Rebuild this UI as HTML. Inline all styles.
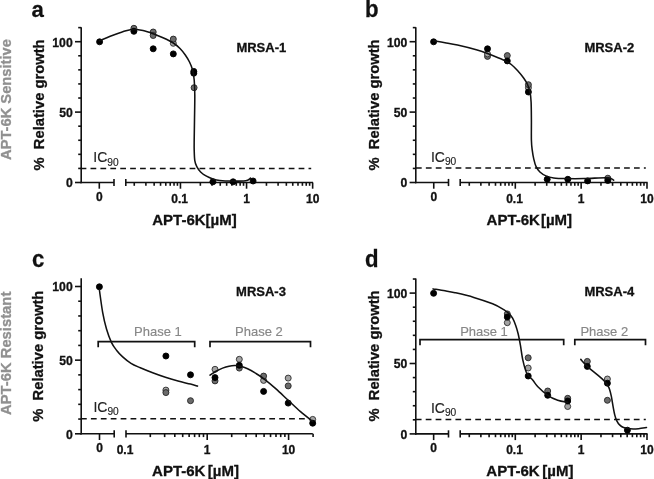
<!DOCTYPE html>
<html><head><meta charset="utf-8"><title>chart</title>
<style>html,body{margin:0;padding:0;background:#fff;}svg{display:block;will-change:transform;filter:grayscale(1);}</style></head>
<body>
<svg width="654" height="479" viewBox="0 0 654 479" font-family="Liberation Sans, sans-serif">
<rect width="654" height="479" fill="#fff"/>
<text transform="translate(11.30,99.55) rotate(-90)" font-size="14.7" font-weight="bold" text-anchor="middle" fill="#909090" stroke="#909090" stroke-width="0.3" xml:space="preserve">APT-6K Sensitive</text>
<text transform="translate(11.30,353.35) rotate(-90)" font-size="14.8" font-weight="bold" text-anchor="middle" fill="#909090" stroke="#909090" stroke-width="0.3" xml:space="preserve">APT-6K Resistant</text>
<text transform="translate(31.60,17.10) scale(1,1.02)" font-size="22.2" font-weight="bold" fill="#111" stroke="#111" stroke-width="0.25">a</text>
<text transform="translate(365.00,17.10) scale(1,1.07)" font-size="22.2" font-weight="bold" fill="#111" stroke="#111" stroke-width="0.25">b</text>
<text transform="translate(32.10,267.20) scale(1,1.06)" font-size="22.2" font-weight="bold" fill="#111" stroke="#111" stroke-width="0.25">c</text>
<text transform="translate(364.90,267.20) scale(1,1.07)" font-size="22.2" font-weight="bold" fill="#111" stroke="#111" stroke-width="0.25">d</text>
<line x1="81.20" y1="183.30" x2="81.20" y2="27.30" stroke="#111" stroke-width="1.6" />
<line x1="75.00" y1="182.50" x2="81.20" y2="182.50" stroke="#111" stroke-width="1.6" />
<text x="72.70" y="187.30" font-size="12.2" font-weight="bold" text-anchor="end" fill="#111"  stroke="#111" stroke-width="0.3">0</text>
<line x1="78.20" y1="168.42" x2="81.20" y2="168.42" stroke="#111" stroke-width="1.6" />
<line x1="78.20" y1="154.34" x2="81.20" y2="154.34" stroke="#111" stroke-width="1.6" />
<line x1="78.20" y1="140.26" x2="81.20" y2="140.26" stroke="#111" stroke-width="1.6" />
<line x1="78.20" y1="126.18" x2="81.20" y2="126.18" stroke="#111" stroke-width="1.6" />
<line x1="75.00" y1="112.10" x2="81.20" y2="112.10" stroke="#111" stroke-width="1.6" />
<text x="72.70" y="116.90" font-size="12.2" font-weight="bold" text-anchor="end" fill="#111"  stroke="#111" stroke-width="0.3">50</text>
<line x1="78.20" y1="98.02" x2="81.20" y2="98.02" stroke="#111" stroke-width="1.6" />
<line x1="78.20" y1="83.94" x2="81.20" y2="83.94" stroke="#111" stroke-width="1.6" />
<line x1="78.20" y1="69.86" x2="81.20" y2="69.86" stroke="#111" stroke-width="1.6" />
<line x1="78.20" y1="55.78" x2="81.20" y2="55.78" stroke="#111" stroke-width="1.6" />
<line x1="75.00" y1="41.70" x2="81.20" y2="41.70" stroke="#111" stroke-width="1.6" />
<text x="72.70" y="46.50" font-size="12.2" font-weight="bold" text-anchor="end" fill="#111"  stroke="#111" stroke-width="0.3">100</text>
<line x1="78.20" y1="27.62" x2="81.20" y2="27.62" stroke="#111" stroke-width="1.6" />
<line x1="80.40" y1="182.50" x2="114.00" y2="182.50" stroke="#111" stroke-width="1.6" />
<line x1="114.00" y1="178.90" x2="114.00" y2="186.10" stroke="#111" stroke-width="1.6" />
<line x1="99.30" y1="182.50" x2="99.30" y2="188.70" stroke="#111" stroke-width="1.6" />
<text x="99.30" y="200.60" font-size="12" font-weight="bold" text-anchor="middle" fill="#111"  stroke="#111" stroke-width="0.3">0</text>
<line x1="125.80" y1="182.50" x2="313.00" y2="182.50" stroke="#111" stroke-width="1.6" />
<line x1="125.80" y1="178.90" x2="125.80" y2="186.10" stroke="#111" stroke-width="1.6" />
<line x1="134.25" y1="182.50" x2="134.25" y2="185.80" stroke="#111" stroke-width="1.6" />
<line x1="145.89" y1="182.50" x2="145.89" y2="185.80" stroke="#111" stroke-width="1.6" />
<line x1="154.15" y1="182.50" x2="154.15" y2="185.80" stroke="#111" stroke-width="1.6" />
<line x1="160.55" y1="182.50" x2="160.55" y2="185.80" stroke="#111" stroke-width="1.6" />
<line x1="165.79" y1="182.50" x2="165.79" y2="185.80" stroke="#111" stroke-width="1.6" />
<line x1="170.21" y1="182.50" x2="170.21" y2="185.80" stroke="#111" stroke-width="1.6" />
<line x1="174.04" y1="182.50" x2="174.04" y2="185.80" stroke="#111" stroke-width="1.6" />
<line x1="177.43" y1="182.50" x2="177.43" y2="185.80" stroke="#111" stroke-width="1.6" />
<line x1="180.45" y1="182.50" x2="180.45" y2="188.70" stroke="#111" stroke-width="1.6" />
<line x1="200.35" y1="182.50" x2="200.35" y2="185.80" stroke="#111" stroke-width="1.6" />
<line x1="211.99" y1="182.50" x2="211.99" y2="185.80" stroke="#111" stroke-width="1.6" />
<line x1="220.25" y1="182.50" x2="220.25" y2="185.80" stroke="#111" stroke-width="1.6" />
<line x1="226.65" y1="182.50" x2="226.65" y2="185.80" stroke="#111" stroke-width="1.6" />
<line x1="231.89" y1="182.50" x2="231.89" y2="185.80" stroke="#111" stroke-width="1.6" />
<line x1="236.31" y1="182.50" x2="236.31" y2="185.80" stroke="#111" stroke-width="1.6" />
<line x1="240.14" y1="182.50" x2="240.14" y2="185.80" stroke="#111" stroke-width="1.6" />
<line x1="243.53" y1="182.50" x2="243.53" y2="185.80" stroke="#111" stroke-width="1.6" />
<line x1="246.55" y1="182.50" x2="246.55" y2="188.70" stroke="#111" stroke-width="1.6" />
<line x1="266.45" y1="182.50" x2="266.45" y2="185.80" stroke="#111" stroke-width="1.6" />
<line x1="278.09" y1="182.50" x2="278.09" y2="185.80" stroke="#111" stroke-width="1.6" />
<line x1="286.35" y1="182.50" x2="286.35" y2="185.80" stroke="#111" stroke-width="1.6" />
<line x1="292.75" y1="182.50" x2="292.75" y2="185.80" stroke="#111" stroke-width="1.6" />
<line x1="297.99" y1="182.50" x2="297.99" y2="185.80" stroke="#111" stroke-width="1.6" />
<line x1="302.41" y1="182.50" x2="302.41" y2="185.80" stroke="#111" stroke-width="1.6" />
<line x1="306.24" y1="182.50" x2="306.24" y2="185.80" stroke="#111" stroke-width="1.6" />
<line x1="309.63" y1="182.50" x2="309.63" y2="185.80" stroke="#111" stroke-width="1.6" />
<line x1="312.65" y1="182.50" x2="312.65" y2="188.70" stroke="#111" stroke-width="1.6" />
<text x="179.65" y="202.70" font-size="12" font-weight="bold" text-anchor="middle" fill="#111"  stroke="#111" stroke-width="0.3">0.1</text>
<text x="246.55" y="202.70" font-size="12" font-weight="bold" text-anchor="middle" fill="#111"  stroke="#111" stroke-width="0.3">1</text>
<text x="312.65" y="202.70" font-size="12" font-weight="bold" text-anchor="middle" fill="#111"  stroke="#111" stroke-width="0.3">10</text>
<text x="194.50" y="225.00" font-size="15" font-weight="bold" text-anchor="middle" fill="#111" xml:space="preserve" stroke="#111" stroke-width="0.3">APT-6K[µM]</text>
<text transform="translate(44.30,104.95) rotate(-90)" font-size="14.75" font-weight="bold" text-anchor="middle" fill="#111" stroke="#111" stroke-width="0.3" xml:space="preserve">%  Relative growth</text>
<line x1="80.60" y1="168.40" x2="311.20" y2="168.40" stroke="#111" stroke-width="1.45" stroke-dasharray="5.75 4.16"/>
<text x="93.30" y="162.30" font-size="14" fill="#222" stroke="#222" stroke-width="0.15">IC<tspan font-size="10.2" dy="3.2">90</tspan></text>
<text x="236.40" y="51.60" font-size="13" font-weight="bold" text-anchor="start" fill="#111"  stroke="#111" stroke-width="0.3">MRSA-1</text>
<circle cx="99.60" cy="41.80" r="3.0" fill="#000" stroke="#000" stroke-width="0.9"/>
<circle cx="133.90" cy="28.30" r="3.0" fill="#6b6b6b" stroke="#242424" stroke-width="0.9"/>
<circle cx="133.90" cy="31.30" r="3.0" fill="#000" stroke="#000" stroke-width="0.9"/>
<circle cx="153.20" cy="32.00" r="3.0" fill="#6b6b6b" stroke="#242424" stroke-width="0.9"/>
<circle cx="153.20" cy="35.50" r="3.0" fill="#6b6b6b" stroke="#242424" stroke-width="0.9"/>
<circle cx="153.20" cy="48.80" r="3.0" fill="#000" stroke="#000" stroke-width="0.9"/>
<circle cx="173.30" cy="43.30" r="3.0" fill="#a3a3a3" stroke="#2e2e2e" stroke-width="0.9"/>
<circle cx="173.30" cy="39.10" r="3.0" fill="#6b6b6b" stroke="#242424" stroke-width="0.9"/>
<circle cx="173.30" cy="53.90" r="3.0" fill="#000" stroke="#000" stroke-width="0.9"/>
<circle cx="194.10" cy="87.70" r="3.0" fill="#6b6b6b" stroke="#242424" stroke-width="0.9"/>
<circle cx="193.80" cy="73.20" r="3.0" fill="#000" stroke="#000" stroke-width="0.9"/>
<circle cx="193.80" cy="71.40" r="3.0" fill="#000" stroke="#000" stroke-width="0.9"/>
<circle cx="212.90" cy="181.80" r="3.0" fill="#000" stroke="#000" stroke-width="0.9"/>
<circle cx="233.10" cy="181.80" r="3.0" fill="#000" stroke="#000" stroke-width="0.9"/>
<circle cx="253.10" cy="181.00" r="3.0" fill="#000" stroke="#000" stroke-width="0.9"/>
<line x1="415.80" y1="183.30" x2="415.80" y2="27.30" stroke="#111" stroke-width="1.6" />
<line x1="409.60" y1="182.50" x2="415.80" y2="182.50" stroke="#111" stroke-width="1.6" />
<text x="407.30" y="187.30" font-size="12.2" font-weight="bold" text-anchor="end" fill="#111"  stroke="#111" stroke-width="0.3">0</text>
<line x1="412.80" y1="168.42" x2="415.80" y2="168.42" stroke="#111" stroke-width="1.6" />
<line x1="412.80" y1="154.34" x2="415.80" y2="154.34" stroke="#111" stroke-width="1.6" />
<line x1="412.80" y1="140.26" x2="415.80" y2="140.26" stroke="#111" stroke-width="1.6" />
<line x1="412.80" y1="126.18" x2="415.80" y2="126.18" stroke="#111" stroke-width="1.6" />
<line x1="409.60" y1="112.10" x2="415.80" y2="112.10" stroke="#111" stroke-width="1.6" />
<text x="407.30" y="116.90" font-size="12.2" font-weight="bold" text-anchor="end" fill="#111"  stroke="#111" stroke-width="0.3">50</text>
<line x1="412.80" y1="98.02" x2="415.80" y2="98.02" stroke="#111" stroke-width="1.6" />
<line x1="412.80" y1="83.94" x2="415.80" y2="83.94" stroke="#111" stroke-width="1.6" />
<line x1="412.80" y1="69.86" x2="415.80" y2="69.86" stroke="#111" stroke-width="1.6" />
<line x1="412.80" y1="55.78" x2="415.80" y2="55.78" stroke="#111" stroke-width="1.6" />
<line x1="409.60" y1="41.70" x2="415.80" y2="41.70" stroke="#111" stroke-width="1.6" />
<text x="407.30" y="46.50" font-size="12.2" font-weight="bold" text-anchor="end" fill="#111"  stroke="#111" stroke-width="0.3">100</text>
<line x1="412.80" y1="27.62" x2="415.80" y2="27.62" stroke="#111" stroke-width="1.6" />
<line x1="415.00" y1="182.50" x2="448.50" y2="182.50" stroke="#111" stroke-width="1.6" />
<line x1="448.50" y1="178.90" x2="448.50" y2="186.10" stroke="#111" stroke-width="1.6" />
<line x1="433.75" y1="182.50" x2="433.75" y2="188.70" stroke="#111" stroke-width="1.6" />
<text x="433.75" y="200.60" font-size="12" font-weight="bold" text-anchor="middle" fill="#111"  stroke="#111" stroke-width="0.3">0</text>
<line x1="460.20" y1="182.50" x2="647.60" y2="182.50" stroke="#111" stroke-width="1.6" />
<line x1="460.20" y1="178.90" x2="460.20" y2="186.10" stroke="#111" stroke-width="1.6" />
<line x1="469.27" y1="182.50" x2="469.27" y2="185.80" stroke="#111" stroke-width="1.6" />
<line x1="480.87" y1="182.50" x2="480.87" y2="185.80" stroke="#111" stroke-width="1.6" />
<line x1="489.10" y1="182.50" x2="489.10" y2="185.80" stroke="#111" stroke-width="1.6" />
<line x1="495.48" y1="182.50" x2="495.48" y2="185.80" stroke="#111" stroke-width="1.6" />
<line x1="500.69" y1="182.50" x2="500.69" y2="185.80" stroke="#111" stroke-width="1.6" />
<line x1="505.10" y1="182.50" x2="505.10" y2="185.80" stroke="#111" stroke-width="1.6" />
<line x1="508.92" y1="182.50" x2="508.92" y2="185.80" stroke="#111" stroke-width="1.6" />
<line x1="512.29" y1="182.50" x2="512.29" y2="185.80" stroke="#111" stroke-width="1.6" />
<line x1="515.30" y1="182.50" x2="515.30" y2="188.70" stroke="#111" stroke-width="1.6" />
<line x1="535.12" y1="182.50" x2="535.12" y2="185.80" stroke="#111" stroke-width="1.6" />
<line x1="546.72" y1="182.50" x2="546.72" y2="185.80" stroke="#111" stroke-width="1.6" />
<line x1="554.95" y1="182.50" x2="554.95" y2="185.80" stroke="#111" stroke-width="1.6" />
<line x1="561.33" y1="182.50" x2="561.33" y2="185.80" stroke="#111" stroke-width="1.6" />
<line x1="566.54" y1="182.50" x2="566.54" y2="185.80" stroke="#111" stroke-width="1.6" />
<line x1="570.95" y1="182.50" x2="570.95" y2="185.80" stroke="#111" stroke-width="1.6" />
<line x1="574.77" y1="182.50" x2="574.77" y2="185.80" stroke="#111" stroke-width="1.6" />
<line x1="578.14" y1="182.50" x2="578.14" y2="185.80" stroke="#111" stroke-width="1.6" />
<line x1="581.15" y1="182.50" x2="581.15" y2="188.70" stroke="#111" stroke-width="1.6" />
<line x1="600.97" y1="182.50" x2="600.97" y2="185.80" stroke="#111" stroke-width="1.6" />
<line x1="612.57" y1="182.50" x2="612.57" y2="185.80" stroke="#111" stroke-width="1.6" />
<line x1="620.80" y1="182.50" x2="620.80" y2="185.80" stroke="#111" stroke-width="1.6" />
<line x1="627.18" y1="182.50" x2="627.18" y2="185.80" stroke="#111" stroke-width="1.6" />
<line x1="632.39" y1="182.50" x2="632.39" y2="185.80" stroke="#111" stroke-width="1.6" />
<line x1="636.80" y1="182.50" x2="636.80" y2="185.80" stroke="#111" stroke-width="1.6" />
<line x1="640.62" y1="182.50" x2="640.62" y2="185.80" stroke="#111" stroke-width="1.6" />
<line x1="643.99" y1="182.50" x2="643.99" y2="185.80" stroke="#111" stroke-width="1.6" />
<line x1="647.00" y1="182.50" x2="647.00" y2="188.70" stroke="#111" stroke-width="1.6" />
<text x="514.50" y="202.70" font-size="12" font-weight="bold" text-anchor="middle" fill="#111"  stroke="#111" stroke-width="0.3">0.1</text>
<text x="581.15" y="202.70" font-size="12" font-weight="bold" text-anchor="middle" fill="#111"  stroke="#111" stroke-width="0.3">1</text>
<text x="647.00" y="202.70" font-size="12" font-weight="bold" text-anchor="middle" fill="#111"  stroke="#111" stroke-width="0.3">10</text>
<text x="529.30" y="225.00" font-size="15" font-weight="bold" text-anchor="middle" fill="#111" xml:space="preserve" stroke="#111" stroke-width="0.3">APT-6K<tspan dx="1.0">[µM]</tspan></text>
<text transform="translate(379.30,104.95) rotate(-90)" font-size="14.75" font-weight="bold" text-anchor="middle" fill="#111" stroke="#111" stroke-width="0.3" xml:space="preserve">%  Relative growth</text>
<line x1="415.95" y1="168.00" x2="645.80" y2="168.00" stroke="#111" stroke-width="1.45" stroke-dasharray="5.75 4.16"/>
<text x="430.90" y="161.80" font-size="14" fill="#222" stroke="#222" stroke-width="0.15">IC<tspan font-size="10.2" dy="3.2">90</tspan></text>
<text x="584.40" y="51.60" font-size="13" font-weight="bold" text-anchor="start" fill="#111"  stroke="#111" stroke-width="0.3">MRSA-2</text>
<circle cx="433.60" cy="41.80" r="3.0" fill="#000" stroke="#000" stroke-width="0.9"/>
<circle cx="487.50" cy="56.40" r="3.0" fill="#6b6b6b" stroke="#242424" stroke-width="0.9"/>
<circle cx="487.50" cy="53.90" r="3.0" fill="#a3a3a3" stroke="#2e2e2e" stroke-width="0.9"/>
<circle cx="487.50" cy="48.80" r="3.0" fill="#000" stroke="#000" stroke-width="0.9"/>
<circle cx="507.30" cy="55.60" r="3.0" fill="#6b6b6b" stroke="#242424" stroke-width="0.9"/>
<circle cx="507.30" cy="60.90" r="3.0" fill="#000" stroke="#000" stroke-width="0.9"/>
<circle cx="528.40" cy="87.70" r="3.0" fill="#a3a3a3" stroke="#2e2e2e" stroke-width="0.9"/>
<circle cx="528.40" cy="84.70" r="3.0" fill="#6b6b6b" stroke="#242424" stroke-width="0.9"/>
<circle cx="528.40" cy="92.00" r="3.0" fill="#000" stroke="#000" stroke-width="0.9"/>
<circle cx="547.20" cy="179.30" r="3.0" fill="#000" stroke="#000" stroke-width="0.9"/>
<circle cx="567.80" cy="179.30" r="3.0" fill="#000" stroke="#000" stroke-width="0.9"/>
<circle cx="587.60" cy="180.90" r="3.0" fill="#000" stroke="#000" stroke-width="0.9"/>
<circle cx="607.80" cy="178.20" r="3.0" fill="#6b6b6b" stroke="#242424" stroke-width="0.9"/>
<circle cx="607.80" cy="180.50" r="3.0" fill="#000" stroke="#000" stroke-width="0.9"/>
<line x1="81.20" y1="434.60" x2="81.20" y2="278.20" stroke="#111" stroke-width="1.6" />
<line x1="75.00" y1="433.80" x2="81.20" y2="433.80" stroke="#111" stroke-width="1.6" />
<text x="72.70" y="438.60" font-size="12.2" font-weight="bold" text-anchor="end" fill="#111"  stroke="#111" stroke-width="0.3">0</text>
<line x1="78.20" y1="419.07" x2="81.20" y2="419.07" stroke="#111" stroke-width="1.6" />
<line x1="78.20" y1="404.34" x2="81.20" y2="404.34" stroke="#111" stroke-width="1.6" />
<line x1="78.20" y1="389.61" x2="81.20" y2="389.61" stroke="#111" stroke-width="1.6" />
<line x1="78.20" y1="374.88" x2="81.20" y2="374.88" stroke="#111" stroke-width="1.6" />
<line x1="75.00" y1="360.15" x2="81.20" y2="360.15" stroke="#111" stroke-width="1.6" />
<text x="72.70" y="364.95" font-size="12.2" font-weight="bold" text-anchor="end" fill="#111"  stroke="#111" stroke-width="0.3">50</text>
<line x1="78.20" y1="345.42" x2="81.20" y2="345.42" stroke="#111" stroke-width="1.6" />
<line x1="78.20" y1="330.69" x2="81.20" y2="330.69" stroke="#111" stroke-width="1.6" />
<line x1="78.20" y1="315.96" x2="81.20" y2="315.96" stroke="#111" stroke-width="1.6" />
<line x1="78.20" y1="301.23" x2="81.20" y2="301.23" stroke="#111" stroke-width="1.6" />
<line x1="75.00" y1="286.50" x2="81.20" y2="286.50" stroke="#111" stroke-width="1.6" />
<text x="72.70" y="291.30" font-size="12.2" font-weight="bold" text-anchor="end" fill="#111"  stroke="#111" stroke-width="0.3">100</text>
<line x1="80.40" y1="433.80" x2="114.20" y2="433.80" stroke="#111" stroke-width="1.6" />
<line x1="114.20" y1="430.20" x2="114.20" y2="437.40" stroke="#111" stroke-width="1.6" />
<line x1="99.50" y1="433.80" x2="99.50" y2="440.00" stroke="#111" stroke-width="1.6" />
<text x="99.50" y="452.10" font-size="12" font-weight="bold" text-anchor="middle" fill="#111"  stroke="#111" stroke-width="0.3">0</text>
<line x1="126.00" y1="433.80" x2="312.80" y2="433.80" stroke="#111" stroke-width="1.6" />
<line x1="126.00" y1="430.20" x2="126.00" y2="437.40" stroke="#111" stroke-width="1.6" />
<line x1="150.30" y1="433.80" x2="150.30" y2="437.10" stroke="#111" stroke-width="1.6" />
<line x1="164.64" y1="433.80" x2="164.64" y2="437.10" stroke="#111" stroke-width="1.6" />
<line x1="174.81" y1="433.80" x2="174.81" y2="437.10" stroke="#111" stroke-width="1.6" />
<line x1="182.70" y1="433.80" x2="182.70" y2="437.10" stroke="#111" stroke-width="1.6" />
<line x1="189.14" y1="433.80" x2="189.14" y2="437.10" stroke="#111" stroke-width="1.6" />
<line x1="194.59" y1="433.80" x2="194.59" y2="437.10" stroke="#111" stroke-width="1.6" />
<line x1="199.31" y1="433.80" x2="199.31" y2="437.10" stroke="#111" stroke-width="1.6" />
<line x1="203.48" y1="433.80" x2="203.48" y2="437.10" stroke="#111" stroke-width="1.6" />
<line x1="207.20" y1="433.80" x2="207.20" y2="440.00" stroke="#111" stroke-width="1.6" />
<line x1="231.70" y1="433.80" x2="231.70" y2="437.10" stroke="#111" stroke-width="1.6" />
<line x1="246.04" y1="433.80" x2="246.04" y2="437.10" stroke="#111" stroke-width="1.6" />
<line x1="256.21" y1="433.80" x2="256.21" y2="437.10" stroke="#111" stroke-width="1.6" />
<line x1="264.10" y1="433.80" x2="264.10" y2="437.10" stroke="#111" stroke-width="1.6" />
<line x1="270.54" y1="433.80" x2="270.54" y2="437.10" stroke="#111" stroke-width="1.6" />
<line x1="275.99" y1="433.80" x2="275.99" y2="437.10" stroke="#111" stroke-width="1.6" />
<line x1="280.71" y1="433.80" x2="280.71" y2="437.10" stroke="#111" stroke-width="1.6" />
<line x1="284.88" y1="433.80" x2="284.88" y2="437.10" stroke="#111" stroke-width="1.6" />
<line x1="288.60" y1="433.80" x2="288.60" y2="440.00" stroke="#111" stroke-width="1.6" />
<line x1="313.10" y1="433.80" x2="313.10" y2="437.10" stroke="#111" stroke-width="1.6" />
<text x="125.00" y="453.90" font-size="12" font-weight="bold" text-anchor="middle" fill="#111"  stroke="#111" stroke-width="0.3">0.1</text>
<text x="207.20" y="453.90" font-size="12" font-weight="bold" text-anchor="middle" fill="#111"  stroke="#111" stroke-width="0.3">1</text>
<text x="288.60" y="453.90" font-size="12" font-weight="bold" text-anchor="middle" fill="#111"  stroke="#111" stroke-width="0.3">10</text>
<text x="195.50" y="476.00" font-size="15" font-weight="bold" text-anchor="middle" fill="#111" xml:space="preserve" stroke="#111" stroke-width="0.3">APT-6K<tspan dx="2.3">[µM]</tspan></text>
<text transform="translate(43.30,356.20) rotate(-90)" font-size="14.75" font-weight="bold" text-anchor="middle" fill="#111" stroke="#111" stroke-width="0.3" xml:space="preserve">%  Relative growth</text>
<line x1="81.00" y1="418.80" x2="311.00" y2="418.80" stroke="#111" stroke-width="1.45" stroke-dasharray="5.75 4.16"/>
<text x="93.40" y="412.00" font-size="14" fill="#222" stroke="#222" stroke-width="0.15">IC<tspan font-size="10.2" dy="3.2">90</tspan></text>
<text x="236.10" y="296.30" font-size="13" font-weight="bold" text-anchor="start" fill="#111"  stroke="#111" stroke-width="0.3">MRSA-3</text>
<path d="M98.20,347.20 V341.60 H194.70 V347.20" fill="none" stroke="#111" stroke-width="1.7"/>
<text x="157.90" y="336.40" font-size="13" font-weight="normal" text-anchor="middle" fill="#878787"  stroke="#878787" stroke-width="0.15">Phase 1</text>
<path d="M210.00,347.20 V341.60 H310.50 V347.20" fill="none" stroke="#111" stroke-width="1.7"/>
<text x="258.90" y="336.40" font-size="13" font-weight="normal" text-anchor="middle" fill="#878787"  stroke="#878787" stroke-width="0.15">Phase 2</text>
<circle cx="99.40" cy="286.80" r="3.0" fill="#000" stroke="#000" stroke-width="0.9"/>
<circle cx="165.90" cy="356.00" r="3.0" fill="#000" stroke="#000" stroke-width="0.9"/>
<circle cx="165.90" cy="390.10" r="3.0" fill="#a3a3a3" stroke="#2e2e2e" stroke-width="0.9"/>
<circle cx="165.90" cy="392.60" r="3.0" fill="#6b6b6b" stroke="#242424" stroke-width="0.9"/>
<circle cx="190.50" cy="374.80" r="3.0" fill="#000" stroke="#000" stroke-width="0.9"/>
<circle cx="190.50" cy="400.70" r="3.0" fill="#6b6b6b" stroke="#242424" stroke-width="0.9"/>
<circle cx="215.00" cy="369.30" r="3.0" fill="#a3a3a3" stroke="#2e2e2e" stroke-width="0.9"/>
<circle cx="215.00" cy="380.90" r="3.0" fill="#6b6b6b" stroke="#242424" stroke-width="0.9"/>
<circle cx="215.00" cy="377.60" r="3.0" fill="#000" stroke="#000" stroke-width="0.9"/>
<circle cx="239.30" cy="359.30" r="3.0" fill="#a3a3a3" stroke="#2e2e2e" stroke-width="0.9"/>
<circle cx="239.30" cy="368.10" r="3.0" fill="#6b6b6b" stroke="#242424" stroke-width="0.9"/>
<circle cx="239.30" cy="365.30" r="3.0" fill="#000" stroke="#000" stroke-width="0.9"/>
<circle cx="263.60" cy="380.40" r="3.0" fill="#a3a3a3" stroke="#2e2e2e" stroke-width="0.9"/>
<circle cx="263.60" cy="376.10" r="3.0" fill="#6b6b6b" stroke="#242424" stroke-width="0.9"/>
<circle cx="263.60" cy="391.40" r="3.0" fill="#000" stroke="#000" stroke-width="0.9"/>
<circle cx="288.20" cy="378.10" r="3.0" fill="#a3a3a3" stroke="#2e2e2e" stroke-width="0.9"/>
<circle cx="288.20" cy="385.90" r="3.0" fill="#6b6b6b" stroke="#242424" stroke-width="0.9"/>
<circle cx="288.20" cy="403.10" r="3.0" fill="#000" stroke="#000" stroke-width="0.9"/>
<circle cx="312.70" cy="419.40" r="3.0" fill="#a3a3a3" stroke="#2e2e2e" stroke-width="0.9"/>
<circle cx="312.70" cy="423.20" r="3.0" fill="#000" stroke="#000" stroke-width="0.9"/>
<line x1="415.80" y1="434.70" x2="415.80" y2="278.50" stroke="#111" stroke-width="1.6" />
<line x1="409.60" y1="433.90" x2="415.80" y2="433.90" stroke="#111" stroke-width="1.6" />
<text x="407.30" y="438.70" font-size="12.2" font-weight="bold" text-anchor="end" fill="#111"  stroke="#111" stroke-width="0.3">0</text>
<line x1="412.80" y1="419.82" x2="415.80" y2="419.82" stroke="#111" stroke-width="1.6" />
<line x1="412.80" y1="405.74" x2="415.80" y2="405.74" stroke="#111" stroke-width="1.6" />
<line x1="412.80" y1="391.66" x2="415.80" y2="391.66" stroke="#111" stroke-width="1.6" />
<line x1="412.80" y1="377.58" x2="415.80" y2="377.58" stroke="#111" stroke-width="1.6" />
<line x1="409.60" y1="363.50" x2="415.80" y2="363.50" stroke="#111" stroke-width="1.6" />
<text x="407.30" y="368.30" font-size="12.2" font-weight="bold" text-anchor="end" fill="#111"  stroke="#111" stroke-width="0.3">50</text>
<line x1="412.80" y1="349.42" x2="415.80" y2="349.42" stroke="#111" stroke-width="1.6" />
<line x1="412.80" y1="335.34" x2="415.80" y2="335.34" stroke="#111" stroke-width="1.6" />
<line x1="412.80" y1="321.26" x2="415.80" y2="321.26" stroke="#111" stroke-width="1.6" />
<line x1="412.80" y1="307.18" x2="415.80" y2="307.18" stroke="#111" stroke-width="1.6" />
<line x1="409.60" y1="293.10" x2="415.80" y2="293.10" stroke="#111" stroke-width="1.6" />
<text x="407.30" y="297.90" font-size="12.2" font-weight="bold" text-anchor="end" fill="#111"  stroke="#111" stroke-width="0.3">100</text>
<line x1="412.80" y1="279.02" x2="415.80" y2="279.02" stroke="#111" stroke-width="1.6" />
<line x1="415.00" y1="433.90" x2="448.50" y2="433.90" stroke="#111" stroke-width="1.6" />
<line x1="448.50" y1="430.30" x2="448.50" y2="437.50" stroke="#111" stroke-width="1.6" />
<line x1="433.65" y1="433.90" x2="433.65" y2="440.10" stroke="#111" stroke-width="1.6" />
<text x="433.65" y="452.20" font-size="12" font-weight="bold" text-anchor="middle" fill="#111"  stroke="#111" stroke-width="0.3">0</text>
<line x1="460.20" y1="433.90" x2="647.60" y2="433.90" stroke="#111" stroke-width="1.6" />
<line x1="460.20" y1="430.30" x2="460.20" y2="437.50" stroke="#111" stroke-width="1.6" />
<line x1="469.27" y1="433.90" x2="469.27" y2="437.20" stroke="#111" stroke-width="1.6" />
<line x1="480.87" y1="433.90" x2="480.87" y2="437.20" stroke="#111" stroke-width="1.6" />
<line x1="489.10" y1="433.90" x2="489.10" y2="437.20" stroke="#111" stroke-width="1.6" />
<line x1="495.48" y1="433.90" x2="495.48" y2="437.20" stroke="#111" stroke-width="1.6" />
<line x1="500.69" y1="433.90" x2="500.69" y2="437.20" stroke="#111" stroke-width="1.6" />
<line x1="505.10" y1="433.90" x2="505.10" y2="437.20" stroke="#111" stroke-width="1.6" />
<line x1="508.92" y1="433.90" x2="508.92" y2="437.20" stroke="#111" stroke-width="1.6" />
<line x1="512.29" y1="433.90" x2="512.29" y2="437.20" stroke="#111" stroke-width="1.6" />
<line x1="515.30" y1="433.90" x2="515.30" y2="440.10" stroke="#111" stroke-width="1.6" />
<line x1="535.12" y1="433.90" x2="535.12" y2="437.20" stroke="#111" stroke-width="1.6" />
<line x1="546.72" y1="433.90" x2="546.72" y2="437.20" stroke="#111" stroke-width="1.6" />
<line x1="554.95" y1="433.90" x2="554.95" y2="437.20" stroke="#111" stroke-width="1.6" />
<line x1="561.33" y1="433.90" x2="561.33" y2="437.20" stroke="#111" stroke-width="1.6" />
<line x1="566.54" y1="433.90" x2="566.54" y2="437.20" stroke="#111" stroke-width="1.6" />
<line x1="570.95" y1="433.90" x2="570.95" y2="437.20" stroke="#111" stroke-width="1.6" />
<line x1="574.77" y1="433.90" x2="574.77" y2="437.20" stroke="#111" stroke-width="1.6" />
<line x1="578.14" y1="433.90" x2="578.14" y2="437.20" stroke="#111" stroke-width="1.6" />
<line x1="581.15" y1="433.90" x2="581.15" y2="440.10" stroke="#111" stroke-width="1.6" />
<line x1="600.97" y1="433.90" x2="600.97" y2="437.20" stroke="#111" stroke-width="1.6" />
<line x1="612.57" y1="433.90" x2="612.57" y2="437.20" stroke="#111" stroke-width="1.6" />
<line x1="620.80" y1="433.90" x2="620.80" y2="437.20" stroke="#111" stroke-width="1.6" />
<line x1="627.18" y1="433.90" x2="627.18" y2="437.20" stroke="#111" stroke-width="1.6" />
<line x1="632.39" y1="433.90" x2="632.39" y2="437.20" stroke="#111" stroke-width="1.6" />
<line x1="636.80" y1="433.90" x2="636.80" y2="437.20" stroke="#111" stroke-width="1.6" />
<line x1="640.62" y1="433.90" x2="640.62" y2="437.20" stroke="#111" stroke-width="1.6" />
<line x1="643.99" y1="433.90" x2="643.99" y2="437.20" stroke="#111" stroke-width="1.6" />
<line x1="647.00" y1="433.90" x2="647.00" y2="440.10" stroke="#111" stroke-width="1.6" />
<text x="514.50" y="454.40" font-size="12" font-weight="bold" text-anchor="middle" fill="#111"  stroke="#111" stroke-width="0.3">0.1</text>
<text x="581.15" y="454.40" font-size="12" font-weight="bold" text-anchor="middle" fill="#111"  stroke="#111" stroke-width="0.3">1</text>
<text x="647.00" y="454.40" font-size="12" font-weight="bold" text-anchor="middle" fill="#111"  stroke="#111" stroke-width="0.3">10</text>
<text x="529.90" y="476.00" font-size="15" font-weight="bold" text-anchor="middle" fill="#111" xml:space="preserve" stroke="#111" stroke-width="0.3">APT-6K<tspan dx="2.6">[µM]</tspan></text>
<text transform="translate(379.30,356.00) rotate(-90)" font-size="14.75" font-weight="bold" text-anchor="middle" fill="#111" stroke="#111" stroke-width="0.3" xml:space="preserve">%  Relative growth</text>
<line x1="415.80" y1="419.50" x2="645.80" y2="419.50" stroke="#111" stroke-width="1.45" stroke-dasharray="5.75 4.16"/>
<text x="430.90" y="412.60" font-size="14" fill="#222" stroke="#222" stroke-width="0.15">IC<tspan font-size="10.2" dy="3.2">90</tspan></text>
<text x="584.40" y="296.30" font-size="13" font-weight="bold" text-anchor="start" fill="#111"  stroke="#111" stroke-width="0.3">MRSA-4</text>
<path d="M420.00,345.20 V339.60 H563.70 V345.20" fill="none" stroke="#111" stroke-width="1.7"/>
<text x="484.00" y="336.40" font-size="13" font-weight="normal" text-anchor="middle" fill="#878787"  stroke="#878787" stroke-width="0.15">Phase 1</text>
<path d="M574.80,345.20 V339.60 H645.50 V345.20" fill="none" stroke="#111" stroke-width="1.7"/>
<text x="604.30" y="336.40" font-size="13" font-weight="normal" text-anchor="middle" fill="#878787"  stroke="#878787" stroke-width="0.15">Phase 2</text>
<circle cx="433.60" cy="293.30" r="3.0" fill="#000" stroke="#000" stroke-width="0.9"/>
<circle cx="507.30" cy="322.70" r="3.0" fill="#a3a3a3" stroke="#2e2e2e" stroke-width="0.9"/>
<circle cx="507.30" cy="313.90" r="3.0" fill="#6b6b6b" stroke="#242424" stroke-width="0.9"/>
<circle cx="507.30" cy="317.10" r="3.0" fill="#000" stroke="#000" stroke-width="0.9"/>
<circle cx="528.20" cy="357.80" r="3.0" fill="#6b6b6b" stroke="#242424" stroke-width="0.9"/>
<circle cx="528.20" cy="368.00" r="3.0" fill="#a3a3a3" stroke="#2e2e2e" stroke-width="0.9"/>
<circle cx="528.20" cy="376.00" r="3.0" fill="#000" stroke="#000" stroke-width="0.9"/>
<circle cx="547.70" cy="391.00" r="3.0" fill="#6b6b6b" stroke="#242424" stroke-width="0.9"/>
<circle cx="547.70" cy="395.30" r="3.0" fill="#000" stroke="#000" stroke-width="0.9"/>
<circle cx="567.70" cy="406.50" r="3.0" fill="#a3a3a3" stroke="#2e2e2e" stroke-width="0.9"/>
<circle cx="567.70" cy="398.30" r="3.0" fill="#6b6b6b" stroke="#242424" stroke-width="0.9"/>
<circle cx="567.70" cy="401.00" r="3.0" fill="#000" stroke="#000" stroke-width="0.9"/>
<circle cx="587.30" cy="361.40" r="3.0" fill="#6b6b6b" stroke="#242424" stroke-width="0.9"/>
<circle cx="587.30" cy="366.40" r="3.0" fill="#000" stroke="#000" stroke-width="0.9"/>
<circle cx="607.40" cy="379.00" r="3.0" fill="#a3a3a3" stroke="#2e2e2e" stroke-width="0.9"/>
<circle cx="607.40" cy="400.30" r="3.0" fill="#6b6b6b" stroke="#242424" stroke-width="0.9"/>
<circle cx="607.40" cy="383.20" r="3.0" fill="#000" stroke="#000" stroke-width="0.9"/>
<circle cx="627.40" cy="430.20" r="3.0" fill="#000" stroke="#000" stroke-width="0.9"/>
<path d="M99.60,40.60 C102.17,39.58 110.60,36.13 115.00,34.50 C119.40,32.87 122.85,31.63 126.00,30.80 C129.15,29.97 131.07,29.53 133.90,29.50 C136.73,29.47 139.78,29.88 143.00,30.60 C146.22,31.32 149.87,32.60 153.20,33.80 C156.53,35.00 159.65,36.27 163.00,37.80 C166.35,39.33 170.47,41.22 173.30,43.00 C176.13,44.78 178.00,46.50 180.00,48.50 C182.00,50.50 183.72,52.75 185.30,55.00 C186.88,57.25 188.28,59.50 189.50,62.00 C190.72,64.50 191.82,67.00 192.60,70.00 C193.38,73.00 193.83,75.83 194.20,80.00 C194.57,84.17 194.75,88.33 194.80,95.00 C194.85,101.67 194.60,112.50 194.50,120.00 C194.40,127.50 194.25,135.00 194.20,140.00 C194.15,145.00 194.10,146.57 194.20,150.00 C194.30,153.43 194.37,157.82 194.80,160.60 C195.23,163.38 195.83,164.80 196.80,166.70 C197.77,168.60 199.07,170.47 200.60,172.00 C202.13,173.53 203.95,174.75 206.00,175.90 C208.05,177.05 210.60,178.13 212.90,178.90 C215.20,179.67 216.62,180.13 219.80,180.50 C222.98,180.87 227.68,181.07 232.00,181.10 C236.32,181.13 242.77,181.05 245.70,180.70 C248.63,180.35 248.80,179.45 249.60,179.00 C250.40,178.55 250.35,178.17 250.50,178.00" fill="none" stroke="#111" stroke-width="1.55" stroke-linecap="round" stroke-linejoin="round"/>
<path d="M433.60,40.70 C435.50,41.03 441.02,41.97 445.00,42.70 C448.98,43.43 452.28,43.92 457.50,45.10 C462.72,46.28 471.30,48.40 476.30,49.80 C481.30,51.20 483.55,52.05 487.50,53.50 C491.45,54.95 497.08,57.30 500.00,58.50 C502.92,59.70 503.12,59.70 505.00,60.70 C506.88,61.70 509.22,62.85 511.30,64.50 C513.38,66.15 515.42,68.30 517.50,70.60 C519.58,72.90 522.13,75.98 523.80,78.30 C525.47,80.62 526.47,82.22 527.50,84.50 C528.53,86.78 529.40,89.08 530.00,92.00 C530.60,94.92 530.87,97.33 531.10,102.00 C531.33,106.67 531.35,113.67 531.40,120.00 C531.45,126.33 531.27,135.02 531.40,140.00 C531.53,144.98 531.80,146.72 532.20,149.90 C532.60,153.08 533.15,156.30 533.80,159.10 C534.45,161.90 535.08,164.55 536.10,166.70 C537.12,168.85 538.25,170.47 539.90,172.00 C541.55,173.53 543.72,174.92 546.00,175.90 C548.28,176.88 550.28,177.45 553.60,177.90 C556.92,178.35 560.80,178.48 565.90,178.60 C571.00,178.72 577.58,178.75 584.20,178.60 C590.82,178.45 601.02,177.65 605.60,177.70 C610.18,177.75 610.37,178.48 611.70,178.90 C613.03,179.32 613.28,179.98 613.60,180.20" fill="none" stroke="#111" stroke-width="1.55" stroke-linecap="round" stroke-linejoin="round"/>
<path d="M99.40,290.00 C99.95,293.77 101.52,306.10 102.70,312.60 C103.88,319.10 105.05,324.05 106.50,329.00 C107.95,333.95 109.73,338.77 111.40,342.30 C113.07,345.83 114.62,347.77 116.50,350.20 C118.38,352.63 120.28,354.70 122.70,356.90 C125.12,359.10 128.07,361.58 131.00,363.40 C133.93,365.22 136.80,366.28 140.30,367.80 C143.80,369.32 147.82,370.92 152.00,372.50 C156.18,374.08 161.07,375.88 165.40,377.30 C169.73,378.72 173.82,379.87 178.00,381.00 C182.18,382.13 187.25,383.25 190.50,384.10 C193.75,384.95 196.33,385.77 197.50,386.10" fill="none" stroke="#111" stroke-width="1.55" stroke-linecap="round" stroke-linejoin="round"/>
<path d="M210.00,375.10 C211.00,374.45 213.90,372.37 216.00,371.20 C218.10,370.03 220.43,368.93 222.60,368.10 C224.77,367.27 226.92,366.62 229.00,366.20 C231.08,365.78 233.02,365.53 235.10,365.60 C237.18,365.67 239.42,366.07 241.50,366.60 C243.58,367.13 245.27,367.70 247.60,368.80 C249.93,369.90 252.83,371.57 255.50,373.20 C258.17,374.83 260.18,375.98 263.60,378.60 C267.02,381.22 271.90,385.28 276.00,388.90 C280.10,392.52 284.12,396.52 288.20,400.30 C292.28,404.08 296.42,408.08 300.50,411.60 C304.58,415.12 310.67,419.77 312.70,421.40" fill="none" stroke="#111" stroke-width="1.55" stroke-linecap="round" stroke-linejoin="round"/>
<path d="M433.10,288.90 C435.08,289.22 441.35,290.17 445.00,290.80 C448.65,291.43 450.20,291.60 455.00,292.70 C459.80,293.80 467.53,295.55 473.80,297.40 C480.07,299.25 487.60,301.77 492.60,303.80 C497.60,305.83 501.07,307.97 503.80,309.60 C506.53,311.23 507.53,312.17 509.00,313.60 C510.47,315.03 511.47,316.18 512.60,318.20 C513.73,320.22 514.87,323.07 515.80,325.70 C516.73,328.33 517.43,330.75 518.20,334.00 C518.97,337.25 519.62,340.82 520.40,345.20 C521.18,349.58 521.87,355.70 522.90,360.30 C523.93,364.90 524.93,369.47 526.60,372.80 C528.27,376.13 531.07,378.02 532.90,380.30 C534.73,382.58 535.13,384.00 537.60,386.50 C540.07,389.00 544.35,393.00 547.70,395.30 C551.05,397.60 554.37,399.13 557.70,400.30 C561.03,401.47 566.03,401.97 567.70,402.30" fill="none" stroke="#111" stroke-width="1.55" stroke-linecap="round" stroke-linejoin="round"/>
<path d="M580.80,359.40 C581.88,360.57 584.47,363.77 587.30,366.40 C590.13,369.03 595.02,372.80 597.80,375.20 C600.58,377.60 602.38,379.17 604.00,380.80 C605.62,382.43 606.57,383.55 607.50,385.00 C608.43,386.45 608.95,387.55 609.60,389.50 C610.25,391.45 610.82,393.83 611.40,396.70 C611.98,399.57 612.53,403.63 613.10,406.70 C613.67,409.77 614.18,412.73 614.80,415.10 C615.42,417.47 616.00,419.27 616.80,420.90 C617.60,422.53 618.47,423.80 619.60,424.90 C620.73,426.00 621.85,426.85 623.60,427.50 C625.35,428.15 627.62,428.60 630.10,428.80 C632.58,429.00 635.77,428.90 638.50,428.70 C641.23,428.50 645.17,427.78 646.50,427.60" fill="none" stroke="#111" stroke-width="1.55" stroke-linecap="round" stroke-linejoin="round"/>
</svg>
</body></html>
